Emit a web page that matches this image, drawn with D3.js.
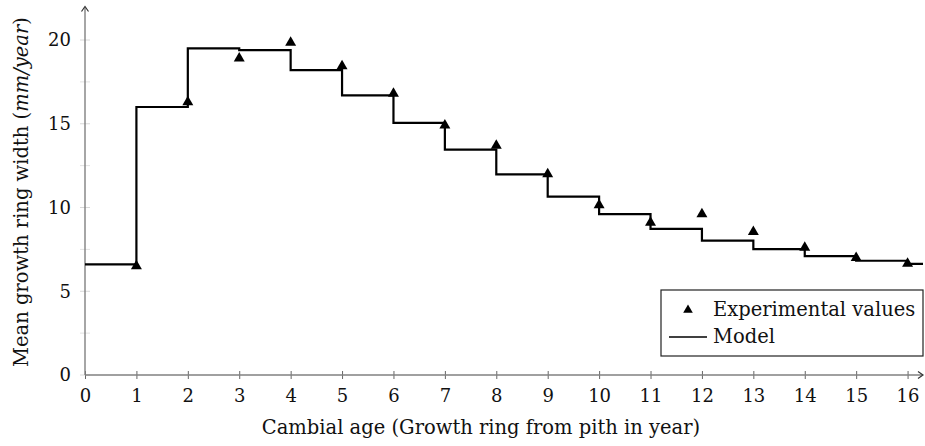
<!DOCTYPE html>
<html>
<head>
<meta charset="utf-8">
<script src="https://cdn.jsdelivr.net/npm/d3@7"></script>
<style>
    body { margin: 0; background: #fff; }
    svg { display: block; font-family: "DejaVu Serif", serif; }
</style>
</head>
<body>
<svg id="chart"></svg>
<script>
// cambial age of each experimental point
const ages = [1, 2, 3, 4, 5, 6, 7, 8, 9, 10, 11, 12, 13, 14, 15, 16];
// measured mean ring width (mm/year)
const experimental = [6.5, 16.3, 18.9, 19.85, 18.45, 16.8, 14.9, 13.7, 12.0, 10.15, 9.1, 9.6, 8.55, 7.6, 7.0, 6.65];
// model step values, one per year starting at age 0
const modelStarts = [0, 1, 2, 3, 4, 5, 6, 7, 8, 9, 10, 11, 12, 13, 14, 15, 16];
const modelValues = [6.6, 16.0, 19.5, 19.4, 18.2, 16.7, 15.05, 13.45, 11.98, 10.65, 9.6, 8.72, 8.02, 7.52, 7.1, 6.82, 6.63];
const xTicks = [0, 1, 2, 3, 4, 5, 6, 7, 8, 9, 10, 11, 12, 13, 14, 15, 16];
const yTicks = [0, 5, 10, 15, 20];
const yMinorTicks = [2.5, 7.5, 12.5, 17.5];

function init() {
    const width = 925;
    const height = 446;
    const xMax = 16.3;
    const yMax = 22;
    const tickFont = 18;
    const labelFont = 19.5;

    const svg = d3.select("#chart")
        .attr("width", width)
        .attr("height", height);

    const scaleX = d3.scaleLinear().domain([0, xMax]).range([85, 923]);
    const scaleY = d3.scaleLinear().domain([0, 20]).range([375, 40]);

    //minor y ticks (very faint)
    svg.append("g").selectAll("line").data(yMinorTicks).enter()
        .append("line")
        .attr("x1", scaleX(0) - 5).attr("x2", scaleX(0) + 5)
        .attr("y1", d => scaleY(d)).attr("y2", d => scaleY(d))
        .attr("stroke", "#e2e2e2").attr("stroke-width", 1);

    //y axis ticks + labels
    const yAxis = d3.axisLeft(scaleY).tickValues(yTicks).tickSize(0).tickPadding(14);
    const gy = svg.append("g")
        .attr("transform", `translate(${scaleX(0)},0)`)
        .call(yAxis);
    gy.attr("font-family", null);
    gy.select(".domain").remove();
    gy.selectAll("text").attr("font-size", tickFont).attr("fill", "#111");
    svg.append("g").selectAll("line").data(yTicks).enter()
        .append("line")
        .attr("x1", scaleX(0) - 5).attr("x2", scaleX(0) + 5)
        .attr("y1", d => scaleY(d)).attr("y2", d => scaleY(d))
        .attr("stroke", "#d8d8d8").attr("stroke-width", 1);

    //x axis ticks + labels
    const xAxis = d3.axisBottom(scaleX).tickValues(xTicks).tickSize(4).tickPadding(10);
    const gx = svg.append("g")
        .attr("transform", `translate(0,${scaleY(0)})`)
        .call(xAxis);
    gx.attr("font-family", null);
    gx.select(".domain").remove();
    gx.selectAll(".tick line").attr("y1", -4).attr("stroke", "#666");
    gx.selectAll("text").attr("font-size", tickFont).attr("fill", "#111");

    //axis lines with arrow heads
    const axisColor = "#808080";
    svg.append("line")
        .attr("x1", scaleX(0)).attr("x2", scaleX(xMax) - 1)
        .attr("y1", scaleY(0)).attr("y2", scaleY(0))
        .attr("stroke", axisColor).attr("stroke-width", 1.4);
    svg.append("line")
        .attr("x1", scaleX(0)).attr("x2", scaleX(0))
        .attr("y1", scaleY(0)).attr("y2", scaleY(yMax) + 1)
        .attr("stroke", axisColor).attr("stroke-width", 1.4);
    svg.append("path")
        .attr("d", `M${scaleX(xMax) - 5},${scaleY(0) - 3.5} L${scaleX(xMax)},${scaleY(0)} L${scaleX(xMax) - 5},${scaleY(0) + 3.5}`)
        .attr("fill", "none").attr("stroke", "#333").attr("stroke-width", 1.2);
    svg.append("path")
        .attr("d", `M${scaleX(0) - 3.5},${scaleY(yMax) + 5} L${scaleX(0)},${scaleY(yMax)} L${scaleX(0) + 3.5},${scaleY(yMax) + 5}`)
        .attr("fill", "none").attr("stroke", "#333").attr("stroke-width", 1.2);

    //model step line
    const stepData = modelStarts.map((x, i) => ({x: x, y: modelValues[i]}));
    stepData.push({x: xMax, y: modelValues[modelValues.length - 1]});
    const line = d3.line()
        .x(d => scaleX(d.x))
        .y(d => scaleY(d.y))
        .curve(d3.curveStepAfter);
    svg.append("path")
        .datum(stepData)
        .attr("d", line)
        .attr("fill", "none")
        .attr("stroke", "#000")
        .attr("stroke-width", 2.2);

    //experimental triangles
    const tri = d3.symbol().type(d3.symbolTriangle).size(52);
    svg.append("g").selectAll("path").data(ages).enter()
        .append("path")
        .attr("d", tri)
        .attr("transform", (d, i) => `translate(${scaleX(d)},${scaleY(experimental[i])})`)
        .attr("fill", "#000");

    //axis titles
    svg.append("text")
        .attr("x", 481).attr("y", 434)
        .attr("text-anchor", "middle")
        .attr("font-size", labelFont)
        .attr("fill", "#111")
        .text("Cambial age (Growth ring from pith in year)");

    const yTitle = svg.append("text")
        .attr("transform", "translate(28,192) rotate(-90)")
        .attr("text-anchor", "middle")
        .attr("font-size", labelFont)
        .attr("fill", "#111");
    yTitle.append("tspan").text("Mean growth ring width (");
    yTitle.append("tspan").attr("font-style", "italic").text("mm/year");
    yTitle.append("tspan").text(")");

    //legend
    const legend = svg.append("g");
    legend.append("rect")
        .attr("x", 661).attr("y", 290)
        .attr("width", 262).attr("height", 66)
        .attr("fill", "#fff")
        .attr("stroke", "#222").attr("stroke-width", 1.2);
    legend.append("path")
        .attr("d", d3.symbol().type(d3.symbolTriangle).size(40))
        .attr("transform", "translate(688,310)")
        .attr("fill", "#000");
    legend.append("line")
        .attr("x1", 669).attr("x2", 707)
        .attr("y1", 337).attr("y2", 337)
        .attr("stroke", "#000").attr("stroke-width", 1.6);
    legend.append("text")
        .attr("x", 713).attr("y", 316)
        .attr("font-size", labelFont).attr("fill", "#111")
        .text("Experimental values");
    legend.append("text")
        .attr("x", 713).attr("y", 343)
        .attr("font-size", labelFont).attr("fill", "#111")
        .text("Model");
}

window.onload = init;
</script>
</body>
</html>
